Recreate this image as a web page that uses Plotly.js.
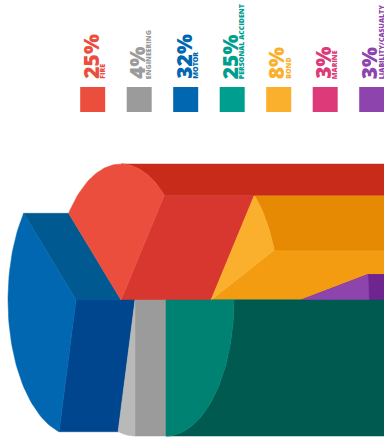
<!DOCTYPE html>
<html>
<head>
<meta charset="utf-8">
<script src="https://cdn.plot.ly/plotly-3.0.1.min.js"></script>
<style>html,body{margin:0;padding:0;background:#fff}#chart{width:384px;height:443px}</style>
</head>
<body>
<div id="chart"></div>
<script>
// Premium split by class of business, legend order
const categories = ['FIRE', 'ENGINEERING', 'MOTOR', 'PERSONAL ACCIDENT', 'BOND', 'MARINE', 'LIABILITY/CASUALTY'];
const shares = [25, 4, 32, 25, 8, 3, 3];
const legendColors = ['#EB4E3D', '#9B9B9B', '#0067B0', '#009E8F', '#FBB02D', '#DC3A78', '#8E44AD'];

// Clockwise order of the slices around the solid, beginning at the 3 o'clock position
const ringOrder = [3, 1, 2, 0, 4, 5, 6];
const ringStart = 90;

// How far along the axis each slice's end cap sits (legend order)
const capOffset = [121, 135, 76, 166, 211, 391, 301];
const capColors = ['#EB4E3D', '#B9B9B9', '#0067B0', '#008272', '#FBB02D', '#DC3A78', '#8E44AD'];
const rimColors = ['#C92B1B', '#8A8A8A', '#00508F', '#005A50', '#E58A02', '#A82058', '#6E2590'];
// Step wall after each ring slice, same order as ringOrder
const wallColors = ['#9B9B9B', '#00468F', '#005A91', '#D7372F', '#F39C12', '#6E2590', '#008272'];

// Projected ellipse of the cylinder
const rx = 68, ry = 136, cy = 300, farEnd = 640;
const rad = d => d * Math.PI / 180;
const pt = (apex, t) => [apex + rx * Math.sin(rad(t)), cy - ry * Math.cos(rad(t))];

function arc(apex, t0, t1) {
  const out = [], n = Math.max(2, Math.ceil(Math.abs(t1 - t0) / 2));
  for (let i = 0; i <= n; i++) out.push(pt(apex, t0 + (t1 - t0) * i / n));
  return out;
}

function poly(points, color, name) {
  return {
    type: 'scatter', mode: 'lines', fill: 'toself', name: name,
    x: points.map(p => p[0]).concat(points[0][0]),
    y: points.map(p => p[1]).concat(points[0][1]),
    fillcolor: color, line: {color: color, width: 0.5},
    hoverinfo: 'name', showlegend: false
  };
}

// Walk the ring to get each slice's angular span from its share
let cursor = ringStart;
const ring = ringOrder.map(idx => {
  const t0 = cursor, t1 = cursor + shares[idx] * 3.6;
  cursor = t1;
  return {idx, t0, t1, apex: capOffset[idx]};
});

// A step wall runs from the forward neighbour's cap back to the recessed
// neighbour's cap, so it is painted just before the recessed one
const wallsBehind = {};
ring.forEach((s, i) => {
  const next = ring[(i + 1) % ring.length];
  const deeper = s.apex > next.apex ? s : next;
  const a = Math.min(s.apex, next.apex), b = Math.max(s.apex, next.apex);
  (wallsBehind[deeper.idx] = wallsBehind[deeper.idx] || []).push({
    pts: [[a, cy], [b, cy], pt(b, s.t1), pt(a, s.t1)], color: wallColors[i]
  });
});

// Paint back to front: the most recessed slice first
const traces = [];
ring.slice().sort((p, q) => q.apex - p.apex).forEach(s => {
  const name = categories[s.idx];
  const lo = s.t0 >= 180 ? Math.max(s.t0, 360) : s.t0;
  const hi = s.t0 < 180 ? Math.min(s.t1, 180) : s.t1;
  if (hi > lo) {
    const rim = arc(s.apex, lo, hi);
    rim.push([farEnd, rim[rim.length - 1][1]], [farEnd, rim[0][1]]);
    traces.push(poly(rim, rimColors[s.idx], name));
  }
  (wallsBehind[s.idx] || []).forEach(w => traces.push(poly(w.pts, w.color, name)));
  traces.push(poly([[s.apex, cy]].concat(arc(s.apex, s.t0, s.t1)), capColors[s.idx], name));
});

// Legend row: swatches with rotated percentage and class labels
const swatchX = categories.map((_, i) => 92.7 + 46.5 * i);
traces.push({
  type: 'scatter', mode: 'markers', x: swatchX, y: categories.map(() => 99.5),
  marker: {symbol: 'square', size: 25, color: legendColors, line: {width: 0}},
  text: categories, hoverinfo: 'text', showlegend: false
});

const annotations = [];
categories.forEach((c, i) => {
  annotations.push({
    x: swatchX[i] - 2.5, y: 81, xref: 'x', yref: 'y', showarrow: false,
    text: shares[i] + '%', textangle: -90, xanchor: 'center', yanchor: 'bottom',
    font: {family: '"Open Sans", sans-serif', size: 21, weight: 800, color: legendColors[i]}
  });
  annotations.push({
    x: swatchX[i] + 9.5, y: 81, xref: 'x', yref: 'y', showarrow: false,
    text: c, textangle: -90, xanchor: 'center', yanchor: 'bottom',
    font: {family: '"Open Sans", sans-serif', size: 7, weight: 800, color: legendColors[i]}
  });
});

Plotly.newPlot('chart', traces, {
  width: 384, height: 443,
  margin: {l: 0, r: 0, t: 0, b: 0},
  paper_bgcolor: '#fff', plot_bgcolor: '#fff',
  showlegend: false,
  xaxis: {range: [0, 384], visible: false, fixedrange: true},
  yaxis: {range: [443, 0], visible: false, fixedrange: true},
  annotations: annotations
}, {displayModeBar: false, staticPlot: true});
</script>
</body>
</html>
